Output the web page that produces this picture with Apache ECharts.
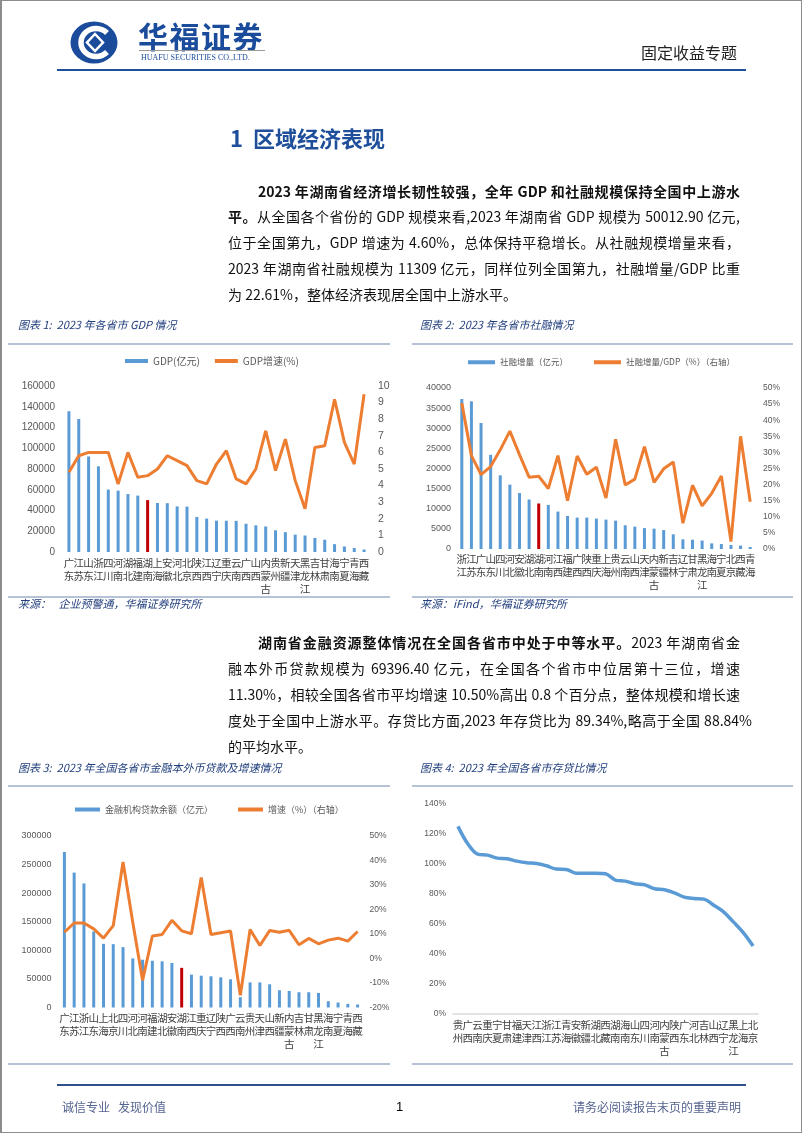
<!DOCTYPE html>
<html><head><meta charset="utf-8">
<script src="https://cdn.jsdelivr.net/npm/echarts@6/dist/echarts.min.js"></script>
<style>
html,body{margin:0;padding:0;background:#fff;}
#page{position:relative;width:802px;height:1133px;overflow:hidden;background:#fff;font-family:"Noto Sans CJK SC",sans-serif;}
#frame{position:absolute;left:0;top:0;width:802px;height:1133px;box-sizing:border-box;border:1px solid #8c8c8c;border-left-width:2px;z-index:5;pointer-events:none;}
#chart{position:absolute;left:0;top:0;width:802px;height:1133px;z-index:1;}
.t{position:absolute;white-space:nowrap;z-index:2;}
.hl{position:absolute;z-index:2;}
.p{position:absolute;white-space:nowrap;font-size:14px;line-height:20px;height:20px;color:#111;text-align:justify;text-align-last:justify;z-index:2;}
.p b{font-weight:700;}
.cap{position:absolute;font-size:11px;font-style:italic;color:#23407e;line-height:16px;white-space:nowrap;z-index:2;}
.sep{position:absolute;height:2px;background:#b6c2d6;z-index:2;}
</style></head>
<body>
<div id="page">
  <div id="chart"></div>
  <!-- header -->
  <svg class="hl" style="left:70px;top:21px" width="48" height="43" viewBox="0 0 48 43">
    <ellipse cx="24" cy="21.5" rx="23.5" ry="21" fill="#1b4b9b"/>
    <path d="M37 12 A15 14 0 1 0 37 31" stroke="#fff" stroke-width="5.5" fill="none"/>
    <path d="M25 13 L33 21.5 L25 30 L17 21.5 Z" fill="#1b4b9b" stroke="#fff" stroke-width="2.5"/>
  </svg>
  <div class="t" style="left:138px;top:17px;font-size:30px;line-height:36px;font-weight:700;color:#1b4b9b;letter-spacing:1.5px;">华福证券</div>
  <div class="hl" style="left:139px;top:50px;width:126px;height:1px;background:#9a9a9a;"></div>
  <div class="t" style="left:141px;top:53px;font-size:8px;line-height:10px;font-family:'Liberation Serif',serif;color:#1b4b9b;">HUAFU SECURITIES CO.,LTD.</div>
  <div class="t" style="left:641px;top:42px;font-size:16px;line-height:20px;color:#222;">固定收益专题</div>
  <div class="hl" style="left:57px;top:69px;width:689px;height:2px;background:#1f4e9a;"></div>

  <div class="t" style="left:230px;top:123px;font-size:22px;line-height:28px;font-weight:700;color:#1f4e9a;">1<span style="display:inline-block;width:10px;"></span>区域经济表现</div>

  <div class="p" style="left:258px;top:181px;width:482px;"><b>2023 年湖南省经济增长韧性较强，全年 GDP 和社融规模保持全国中上游水</b></div>
  <div class="p" style="left:228px;top:206px;width:512px;"><b>平。</b>从全国各个省份的 GDP 规模来看,2023 年湖南省 GDP 规模为 50012.90 亿元,</div>
  <div class="p" style="left:228px;top:232px;width:512px;">位于全国第九，GDP 增速为 4.60%，总体保持平稳增长。从社融规模增量来看，</div>
  <div class="p" style="left:228px;top:258px;width:512px;">2023 年湖南省社融规模为 11309 亿元，同样位列全国第九，社融增量/GDP 比重</div>
  <div class="p" style="left:228px;top:284px;width:512px;text-align:left;text-align-last:left;">为 22.61%，整体经济表现居全国中上游水平。</div>

  <div class="cap" style="left:18px;top:316px;">图表 1:&nbsp; 2023 年各省市 GDP 情况</div>
  <div class="cap" style="left:420px;top:316px;">图表 2:&nbsp; 2023 年各省市社融情况</div>
  <div class="sep" style="left:8px;top:343px;width:382px;"></div>
  <div class="sep" style="left:412px;top:343px;width:381px;"></div>
  <div class="sep" style="left:8px;top:596px;width:382px;"></div>
  <div class="sep" style="left:412px;top:596px;width:381px;"></div>
  <div class="cap" style="left:18px;top:595px;">来源：&nbsp;&nbsp;&nbsp;企业预警通，华福证券研究所</div>
  <div class="cap" style="left:420px;top:595px;">来源：iFind，华福证券研究所</div>

  <div class="p" style="left:258px;top:632px;width:482px;"><b>湖南省金融资源整体情况在全国各省市中处于中等水平。</b>2023 年湖南省金</div>
  <div class="p" style="left:228px;top:658px;width:512px;">融本外币贷款规模为 69396.40 亿元，在全国各个省市中位居第十三位，增速</div>
  <div class="p" style="left:228px;top:684px;width:512px;">11.30%，相较全国各省市平均增速 10.50%高出 0.8 个百分点，整体规模和增长速</div>
  <div class="p" style="left:228px;top:710px;width:524px;">度处于全国中上游水平。存贷比方面,2023 年存贷比为 89.34%,略高于全国 88.84%</div>
  <div class="p" style="left:228px;top:736px;width:512px;text-align:left;text-align-last:left;">的平均水平。</div>

  <div class="cap" style="left:18px;top:759px;">图表 3:&nbsp; 2023 年全国各省市金融本外币贷款及增速情况</div>
  <div class="cap" style="left:420px;top:759px;">图表 4:&nbsp; 2023 年全国各省市存贷比情况</div>
  <div class="sep" style="left:8px;top:785px;width:382px;"></div>
  <div class="sep" style="left:412px;top:785px;width:381px;"></div>
  <div class="sep" style="left:8px;top:1063px;width:382px;"></div>
  <div class="sep" style="left:412px;top:1063px;width:381px;"></div>

  <div class="hl" style="left:57px;top:1084px;width:689px;height:2px;background:#2f4f8f;"></div>
  <div class="t" style="left:62px;top:1099px;font-size:12px;line-height:16px;color:#55648f;">诚信专业&nbsp;&nbsp;&nbsp;发现价值</div>
  <div class="t" style="left:396px;top:1099px;font-size:13px;line-height:16px;color:#000;font-family:'Liberation Sans',sans-serif;">1</div>
  <div class="t" style="left:573px;top:1099px;font-size:12px;line-height:16px;color:#55648f;">请务必阅读报告末页的重要声明</div>
  <div id="frame"></div>
</div>
<script>
// ---------- Chart 1: GDP ----------
const cat1 = ['广东','江苏','山东','浙江','四川','河南','湖北','福建','湖南','上海','安徽','河北','北京','陕西','江西','辽宁','重庆','云南','广西','山西','内蒙古','贵州','新疆','天津','黑龙江','吉林','甘肃','海南','宁夏','青海','西藏'];
const gdp = [135673,128222,92069,82553,60133,59132,55804,54355,50013,47219,47051,43944,43761,33786,32200,30209,30146,30021,27202,25698,24628,20913,19126,16737,15884,13531,11864,7551,5315,3799,2393];
const gdpGrowth = [4.8,5.8,6.0,6.0,6.0,4.1,6.0,4.5,4.6,5.0,5.8,5.5,5.2,4.3,4.1,5.3,6.1,4.4,4.1,5.0,7.3,4.9,6.8,4.3,2.6,6.3,6.4,9.2,6.6,5.3,9.5];

// ---------- Chart 2: social financing ----------
const cat2 = ['浙江','江苏','广东','山东','四川','河北','安徽','湖北','湖南','河南','江西','福建','广西','陕西','重庆','上海','贵州','云南','山西','天津','内蒙古','新疆','吉林','辽宁','甘肃','黑龙江','海南','宁夏','北京','西藏','青海'];
const tsf = [37260,36700,31300,23400,18300,16000,13900,12300,11309,10950,9300,8200,7800,7800,7550,7300,7050,5900,5550,5200,5050,4700,3650,2400,2300,2100,1400,1250,1000,850,500];
const tsfRatio = [45.3,29.0,23.1,25.6,30.8,36.6,29.3,22.3,22.6,18.8,29.0,15.0,28.9,23.2,25.4,15.8,34.1,19.9,21.7,31.8,20.7,24.9,27.0,8.0,19.8,13.4,17.3,22.7,2.3,35.0,14.7];

// ---------- Chart 3: loans ----------
const cat3 = ['广东','江苏','浙江','山东','上海','北京','四川','河北','河南','福建','湖北','安徽','湖南','江西','重庆','辽宁','陕西','广西','云南','贵州','天津','山西','新疆','内蒙古','吉林','甘肃','黑龙江','海南','宁夏','青海','西藏'];
const loans = [272000,236000,217000,133000,111400,110800,105600,85900,83600,81800,80700,77800,69396,57500,55700,54600,52800,49300,18000,43900,43900,40600,30200,29000,26700,26700,25500,11000,8700,6400,5200];
const loanGrowth = [10.7,14.5,14.5,12.1,8.3,13.4,39.4,14.7,-8.9,9.2,9.8,15.6,11.3,10.1,33.1,9.8,10.5,11.2,-15.0,11.8,5.3,11.4,10.7,11.5,5.6,8.2,6.0,7.5,8.3,7.1,11.0];

// ---------- Chart 4: loan-to-deposit ----------
const cat4 = ['贵州','广西','云南','重庆','宁夏','甘肃','福建','天津','江西','浙江','江苏','青海','安徽','新疆','湖北','西藏','湖南','海南','山东','四川','河南','内蒙古','陕西','广东','河北','吉林','山西','辽宁','黑龙江','上海','北京'];
const ldr = [125.1,113.5,106.6,105.9,103.9,103.5,101.9,100.8,100.4,98.8,96.6,96.4,93.9,93.9,93.9,93.5,89.3,88.6,86.8,86.1,83.5,82.8,80.8,77.9,77.0,76.6,72.5,68.1,61.4,54.3,45.4];

const BLUE = '#5b9bd5', ORANGE = '#ed7d31', RED = '#c00000';
const vert = v => v.split('').join('\n');
const plain = v => String(v);
const pct = v => v + '%';
const catLabel = m => ({interval:0, formatter:vert, fontSize:10.5, lineHeight:13, color:'#404040', margin:m, fontFamily:'Noto Sans CJK SC'});
const numLabel = (fs, m, fmt) => ({fontSize:fs, color:'#595959', margin:m, fontFamily:'Liberation Sans', formatter:fmt || plain});
const hl = (cats, vals) => vals.map((v,i) => cats[i]==='湖南' ? {value:v, itemStyle:{color:RED}} : v);
const noAx = {axisLine:{show:false}, axisTick:{show:false}, splitLine:{show:false}};
const xCat = (g, cats, m, line) => Object.assign({gridIndex:g, type:'category', data:cats, axisLabel:catLabel(m)}, noAx, line ? {axisLine:{show:true, lineStyle:{color:'#d9d9d9', width:1.5}}} : {});
const yVal = (g, min, max, iv, fs, m, fmt, right) => Object.assign({gridIndex:g, type:'value', min, max, interval:iv, position:right?'right':'left', axisLabel:numLabel(fs, m, fmt)}, noAx);
const leg = (left, top, names, w, gap, fs) => ({left, top, itemWidth:w, itemHeight:4, itemGap:gap, padding:0,
  textStyle:{fontSize:fs, color:'#595959', fontFamily:'Noto Sans CJK SC'},
  data:names.map(n => ({name:n, icon:'rect'}))});

const chart = echarts.init(document.getElementById('chart'), null, {renderer:'canvas'});
chart.setOption({
  animation:false,
  grid:[
    {left:64, top:386, width:305, height:166},
    {left:457, top:388, width:298, height:161},
    {left:59.5, top:836, width:303, height:171.5},
    {left:453, top:804, width:305, height:210}
  ],
  xAxis:[
    xCat(0, cat1, 5),
    xCat(1, cat2, 4),
    xCat(2, cat3, 4),
    xCat(3, cat4, 5, true)
  ],
  yAxis:[
    yVal(0, 0, 160000, 20000, 10, 9),
    yVal(0, 0, 10, 1, 10.5, 9, null, true),
    yVal(1, 0, 40000, 5000, 9, 6),
    yVal(1, 0, 50, 5, 8.5, 8, pct, true),
    yVal(2, 0, 300000, 50000, 9, 8),
    yVal(2, -20, 50, 10, 8.5, 7, pct, true),
    yVal(3, 0, 140, 20, 8.5, 7, pct)
  ],
  legend:[
    leg(125, 356, ['GDP(亿元)','GDP增速(%)'], 23, 15, 10),
    leg(468, 358, ['社融增量（亿元）','社融增量/GDP（%）（右轴）'], 27, 26, 8.5),
    leg(75, 805, ['金融机构贷款余额（亿元）','增速（%）（右轴）'], 25, 25, 9)
  ],
  series:[
    {name:'GDP(亿元)', type:'bar', xAxisIndex:0, yAxisIndex:0, data:hl(cat1, gdp), barWidth:3, color:BLUE, itemStyle:{color:BLUE}},
    {name:'GDP增速(%)', type:'line', xAxisIndex:0, yAxisIndex:1, data:gdpGrowth, symbol:'none', color:ORANGE, lineStyle:{color:ORANGE, width:3}},
    {name:'社融增量（亿元）', type:'bar', xAxisIndex:1, yAxisIndex:2, data:hl(cat2, tsf), barWidth:3, color:BLUE, itemStyle:{color:BLUE}},
    {name:'社融增量/GDP（%）（右轴）', type:'line', xAxisIndex:1, yAxisIndex:3, data:tsfRatio, symbol:'none', color:ORANGE, lineStyle:{color:ORANGE, width:3}},
    {name:'金融机构贷款余额（亿元）', type:'bar', xAxisIndex:2, yAxisIndex:4, data:hl(cat3, loans), barWidth:3, color:BLUE, itemStyle:{color:BLUE}},
    {name:'增速（%）（右轴）', type:'line', xAxisIndex:2, yAxisIndex:5, data:loanGrowth, symbol:'none', color:ORANGE, lineStyle:{color:ORANGE, width:3}},
    {name:'存贷比', type:'line', xAxisIndex:3, yAxisIndex:6, data:ldr, symbol:'none', smooth:0.35, color:BLUE, lineStyle:{color:BLUE, width:3.5}}
  ]
});
</script>
</body></html>
